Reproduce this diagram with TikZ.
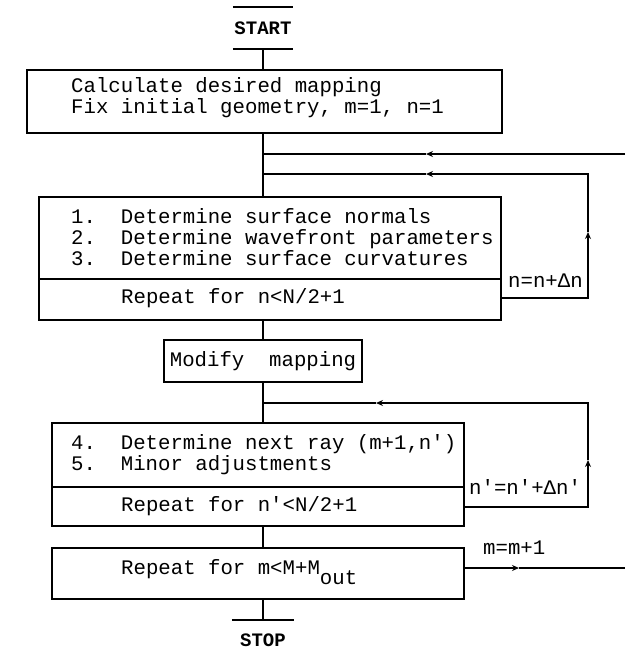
\documentclass[tikz,border=0pt]{standalone}
\usepackage{fontspec}
\setmonofont{Liberation Mono}
\usetikzlibrary{arrows.meta}
\begin{document}
\begin{tikzpicture}[x=1pt,y=-1pt,
  box/.style={draw,line width=1.8pt,inner sep=0pt},
  ln/.style={line width=1.5pt},
  tip/.style={-{Stealth[length=7pt,width=6pt]}},
  txt/.style={font=\ttfamily\fontsize{20.7}{21}\selectfont,inner sep=0pt,align=left},
  term/.style={font=\ttfamily\bfseries\fontsize{19}{19}\selectfont,inner sep=0pt}]
\useasboundingbox (0,0) rectangle (625,659);

% terminals
\node[term,minimum width=60pt,minimum height=42pt] (start) at (263,28) {START};
\draw[ln] (start.north west) -- (start.north east);
\draw[ln] (start.south west) -- (start.south east);
\node[term,minimum width=62pt,minimum height=40pt] (stop) at (263,640) {STOP};
\draw[ln] (stop.north west) -- (stop.north east);

% boxes
\node[box,minimum width=475pt,minimum height=63pt] (box1) at (264.5,101.5) {};
\node[box,minimum width=462pt,minimum height=123pt] (box2) at (270,258.5) {};
\node[box,minimum width=198pt,minimum height=42pt,txt] (modify) at (263,361) {Modify\ \ mapping};
\node[box,minimum width=412pt,minimum height=103pt] (box3) at (258,474.5) {};
\node[box,minimum width=412pt,minimum height=51pt] (box4) at (258,573.5) {};

% dividers
\draw[box] (box2.west |- 0,279) -- (box2.east |- 0,279);
\draw[box] (box3.west |- 0,487) -- (box3.east |- 0,487);

% texts
\node[txt,anchor=west] (t1) at (71,98) {Calculate desired mapping\\Fix initial geometry, m=1, n=1};
\node[txt,anchor=west] (t2) at (71,237) {1.\ \ Determine surface normals\\2.\ \ Determine wavefront parameters\\3.\ \ Determine surface curvatures};
\node[txt,anchor=west] (t3) at (121,298) {Repeat for n<N/2+1};
\node[txt,anchor=west] (t4) at (71,454.5) {4.\ \ Determine next ray (m+1,n')\\5.\ \ Minor adjustments};
\node[txt,anchor=west] (t5) at (121,506) {Repeat for n'<N/2+1};
\node[txt,anchor=base west] (t6) at (121,574) {Repeat for m<M+M\raisebox{-10pt}{out}};

% labels
\node[txt,anchor=west] (l1) at (508,281) {n=n+Δn};
\node[txt,anchor=west] (l2) at (469,487) {n'=n'+Δn'};
\node[txt,anchor=west] (l3) at (483,548) {m=m+1};

% main spine
\coordinate (j1) at (263,154);
\coordinate (j2) at (263,174);
\coordinate (j3) at (263,403);
\draw[ln] (start.south) -- (start.south |- box1.north);
\draw[ln] (start.south |- box1.south) -- (start.south |- box2.north);
\draw[ln] (start.south |- box2.south) -- (modify.north);
\draw[ln] (modify.south) -- (modify.south |- box3.north);
\draw[ln] (modify.south |- box3.south) -- (modify.south |- box4.north);
\draw[ln] (stop.north |- box4.south) -- (stop.north);

% outer loop (m)
\coordinate (oR) at (625,154);
\coordinate (a1) at (426,154);
\draw[ln,tip] (oR) -- (a1);
\draw[ln] (a1) -- (j1);
\coordinate (oR2) at (625,568);
\coordinate (a5) at (519,568);
\draw[ln,tip] (box4.east |- 0,568) -- (a5);
\draw[ln] (a5) -- (oR2);

% loop n
\coordinate (u1) at (588,232);
\coordinate (a2) at (426,174);
\draw[ln,tip] (box2.east |- 0,298) -| (u1);
\draw[ln,tip] (u1) |- (a2);
\draw[ln] (a2) -- (j2);

% loop n'
\coordinate (u2) at (588,460);
\coordinate (a3) at (376,403);
\draw[ln,tip] (box3.east |- 0,507) -| (u2);
\draw[ln,tip] (u2) |- (a3);
\draw[ln] (a3) -- (j3);
\end{tikzpicture}
\end{document}
